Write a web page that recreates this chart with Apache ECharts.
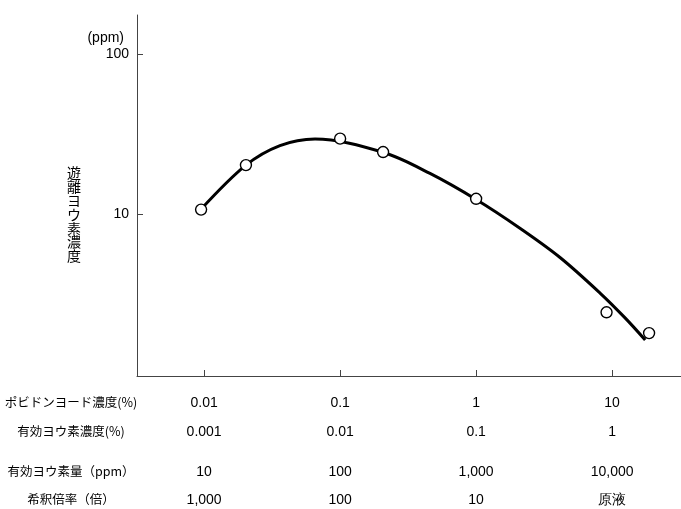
<!DOCTYPE html>
<html>
<head>
<meta charset="utf-8">
<script src="https://cdn.jsdelivr.net/npm/echarts@6/dist/echarts.min.js"></script>
<style>
html,body{margin:0;padding:0;background:#fff;}
#chart{width:681px;height:509px;}
</style>
</head>
<body>
<div id="chart"></div>
<script>
// Tick positions (povidone-iodine concentration, %)
const tickValues = [0.01, 0.1, 1, 10];
const yTickValues = [10, 100];

// Tick label rows
const povidoneLabels = ['0.01', '0.1', '1', '10'];
const iodineConcLabels = ['0.001', '0.01', '0.1', '1'];
const iodineAmountLabels = ['10', '100', '1,000', '10,000'];
const dilutionLabels = ['1,000', '100', '10', '原液'];

// Row titles
const rowTitles = ['ポビドンヨード濃度(%)', '有効ヨウ素濃度(%)', '有効ヨウ素量（ppm）', '希釈倍率（倍）'];

// Measured points (x: povidone-iodine %, y: free iodine ppm)
const pointX = [0.0095, 0.0203, 0.1, 0.207, 1.0, 9.1, 18.7];
const pointY = [10.7, 20.3, 29.7, 24.5, 12.5, 2.44, 1.81];

// Fitted curve nodes
const curveX = [0.00949, 0.0202, 0.0361, 0.0654, 0.207, 0.458, 1.0, 2.10, 4.14, 8.15, 12.4, 17.5];
const curveY = [10.75, 20.2, 26.85, 29.55, 24.4, 18.0, 12.37, 8.18, 5.37, 3.22, 2.26, 1.64];

const xMin = 0.00321, xMax = 32.1;
const yMin = 0.976, yMax = 176;

const numFont = 'Liberation Sans, Arial, sans-serif';
const jpFont = '"Noto Sans CJK JP", sans-serif';

function zip(a, b) { return a.map((v, i) => [v, b[i]]); }
function pick(labels) {
  return function (v) {
    let best = 0, bd = Infinity;
    tickValues.forEach((t, i) => {
      const d = Math.abs(Math.log10(v) - Math.log10(t));
      if (d < bd) { bd = d; best = i; }
    });
    return labels[best];
  };
}

function makeX(labels, offset, main) {
  return {
    type: 'log',
    logBase: 10,
    min: xMin,
    max: xMax,
    position: 'bottom',
    offset: offset,
    gridIndex: 0,
    axisLine: { show: main, onZero: false, lineStyle: { color: '#444', width: 1 } },
    axisTick: { show: main, inside: true, length: 6, customValues: tickValues, lineStyle: { color: '#444' } },
    minorTick: { show: false },
    splitLine: { show: false },
    axisLabel: {
      show: true,
      customValues: tickValues,
      formatter: pick(labels),
      margin: 20,
      color: '#000',
      fontSize: 14,
      fontFamily: numFont
    }
  };
}

const chart = echarts.init(document.getElementById('chart'), null, { renderer: 'canvas' });

const titleY = [402, 431, 471, 499];

chart.setOption({
  animation: false,
  backgroundColor: '#fff',
  grid: { left: 137, right: 0, top: 15, bottom: 133, containLabel: false },
  xAxis: [
    makeX(povidoneLabels, 0, true),
    makeX(iodineConcLabels, 29, false),
    makeX(iodineAmountLabels, 69, false),
    makeX(dilutionLabels, 97, false)
  ],
  yAxis: {
    type: 'log',
    logBase: 10,
    min: yMin,
    max: yMax,
    axisLine: { show: true, lineStyle: { color: '#444', width: 1 } },
    axisTick: { show: true, inside: true, length: 6, customValues: yTickValues, lineStyle: { color: '#444' } },
    minorTick: { show: false },
    splitLine: { show: false },
    axisLabel: {
      customValues: yTickValues,
      formatter: v => String(Math.round(v)),
      margin: 8,
      color: '#000',
      fontSize: 14,
      fontFamily: numFont
    }
  },
  graphic: [
    {
      type: 'text', x: 124, y: 38,
      style: { text: '(ppm)', fill: '#000', font: '14px ' + numFont, align: 'right', verticalAlign: 'middle' }
    },
    {
      type: 'text', x: 74, y: 214.5,
      style: { text: '遊\n離\nヨ\nウ\n素\n濃\n度', fill: '#000', fontSize: 14, lineHeight: 13.8, fontFamily: jpFont, align: 'center', verticalAlign: 'middle' }
    }
  ].concat(rowTitles.map((t, i) => ({
    type: 'text', x: 71, y: titleY[i],
    style: { text: t, fill: '#000', fontSize: 12.5, fontFamily: jpFont, align: 'center', verticalAlign: 'middle' }
  }))),
  series: [
    {
      type: 'line',
      xAxisIndex: 0,
      data: zip(curveX, curveY),
      smooth: 0.33,
      showSymbol: false,
      symbol: 'none',
      lineStyle: { color: '#000', width: 3 },
      z: 2
    },
    {
      type: 'scatter',
      xAxisIndex: 0,
      data: zip(pointX, pointY),
      symbol: 'circle',
      symbolSize: 11,
      itemStyle: { color: '#fff', opacity: 1, borderColor: '#000', borderWidth: 1.4 },
      z: 3
    }
  ]
});
</script>
</body>
</html>
